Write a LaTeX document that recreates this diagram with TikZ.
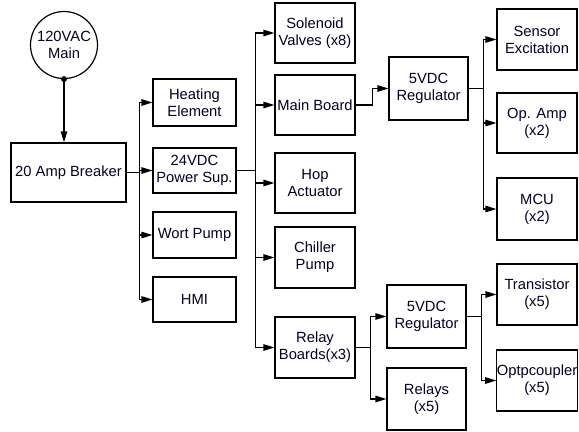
\documentclass[tikz,border=0pt]{standalone}
\usepackage{fontspec}
\setmainfont{Liberation Sans}
\usetikzlibrary{arrows.meta}
\begin{document}
\begin{tikzpicture}[x=1bp,y=-1bp,
  box/.style={draw, line width=1.2bp, align=center, inner sep=0pt,
    font=\fontsize{14.8}{17}\selectfont, text=black!85!blue},
  arr/.style={line width=1.2bp, -{Triangle[length=11bp,width=6.5bp]}},
  wire/.style={line width=1.2bp}]
\useasboundingbox (0,0) rectangle (579,431);
\fill[white] (0,0) rectangle (579,431);
% column 1
\node[box, circle, minimum size=67bp] (main) at (64,45) {120VAC\\Main};
\node[box, minimum width=115bp, minimum height=59bp] (brk) at (68.5,172.5) {20 Amp Breaker};
% column 2
\node[box, minimum width=83bp, minimum height=47bp] (heat) at (194.5,102.5) {Heating\\Element};
\node[box, minimum width=83bp, minimum height=45bp] (psu) at (194.5,170.5) {24VDC\\Power Sup.};
\node[box, minimum width=83bp, minimum height=46bp] (wort) at (194.5,235) {Wort Pump};
\node[box, minimum width=83bp, minimum height=45bp] (hmi) at (194.5,299.5) {HMI};
% column 3
\node[box, minimum width=80bp, minimum height=60bp] (sol) at (315,33) {Solenoid\\Valves (x8)};
\node[box, minimum width=80bp, minimum height=60bp] (mb) at (315,105) {Main Board};
\node[box, minimum width=80bp, minimum height=60bp] (hop) at (315,183) {Hop\\Actuator};
\node[box, minimum width=80bp, minimum height=61bp] (chill) at (315,257.5) {Chiller\\Pump};
\node[box, minimum width=80bp, minimum height=61bp] (relb) at (315,347.5) {Relay\\Boards(x3)};
% column 4
\node[box, minimum width=79bp, minimum height=63bp] (reg1) at (428.5,88.5) {5VDC\\Regulator};
\node[box, minimum width=79bp, minimum height=63bp] (reg2) at (426.5,316.5) {5VDC\\Regulator};
\node[box, minimum width=79bp, minimum height=62bp] (rly) at (426.5,399) {Relays\\(x5)};
% column 5
\node[box, minimum width=80bp, minimum height=61bp] (sens) at (537,39.5) {Sensor\\Excitation};
\node[box, minimum width=80bp, minimum height=60bp] (op) at (537,123) {Op. Amp\\(x2)};
\node[box, minimum width=80bp, minimum height=62bp] (mcu) at (537,209) {MCU\\(x2)};
\node[box, minimum width=80bp, minimum height=61bp] (tr) at (537,294.5) {Transistor\\(x5)};
\node[box, minimum width=80bp, minimum height=61bp] (opt) at (537,380.5) {Optpcoupler\\(x5)};
% connectors
\fill (main.south) circle (3bp);
\draw[arr] (main.south) -- (main.south |- brk.north);
\foreach \t in {heat,psu,wort,hmi}
  \draw[arr] (brk.east) -- ++(13,0) |- (\t.west);
\foreach \t in {sol,mb,hop,chill,relb}
  \draw[arr] (psu.east) -- ++(19,0) |- (\t.west);
\draw[arr] (mb.east) -- ++(17,0) |- (reg1.west);
\foreach \t in {sens,op,mcu}
  \draw[arr] (reg1.east) -- ++(15,0) |- (\t.west);
\foreach \t in {reg2,rly}
  \draw[arr] (relb.east) -- ++(15,0) |- (\t.west);
\foreach \t in {tr,opt}
  \draw[arr] (reg2.east) -- ++(15,0) |- (\t.west);
\end{tikzpicture}
\end{document}
